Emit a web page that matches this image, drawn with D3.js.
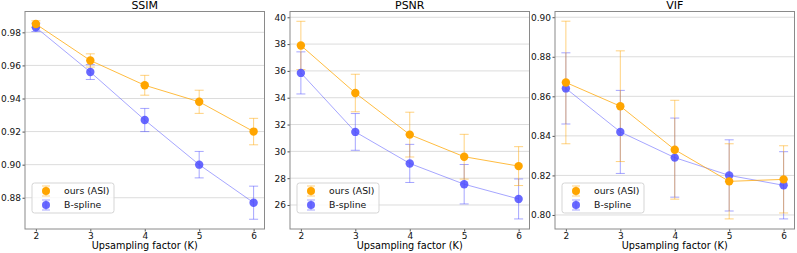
<!DOCTYPE html>
<html>
<head>
<meta charset="utf-8">
<script src="https://cdn.jsdelivr.net/npm/d3@7"></script>
<style>
  body { margin: 0; background: #fff; }
  svg { font-family: "DejaVu Sans", sans-serif; }
</style>
</head>
<body>
<svg id="chart" width="797" height="253"></svg>
<script>
// upsampling factors
var factors = [2, 3, 4, 5, 6];

// SSIM
var ssimOurs = [0.985, 0.963, 0.948, 0.938, 0.920];
var ssimOursErr = [0.002, 0.004, 0.006, 0.007, 0.008];
var ssimBsp = [0.983, 0.956, 0.927, 0.900, 0.877];
var ssimBspErr = [0.0025, 0.0045, 0.007, 0.008, 0.010];
var ssimTicks = [0.88, 0.90, 0.92, 0.94, 0.96, 0.98];

// PSNR
var psnrOurs = [37.9, 34.35, 31.25, 29.6, 28.9];
var psnrOursErr = [1.8, 1.4, 1.67, 1.67, 1.45];
var psnrBsp = [35.85, 31.45, 29.1, 27.55, 26.45];
var psnrBspErr = [1.57, 1.37, 1.42, 1.47, 1.49];
var psnrTicks = [26, 28, 30, 32, 34, 36, 38, 40];

// VIF
var vifOurs = [0.867, 0.855, 0.833, 0.817, 0.818];
var vifOursErr = [0.031, 0.028, 0.025, 0.019, 0.017];
var vifBsp = [0.864, 0.842, 0.829, 0.820, 0.815];
var vifBspErr = [0.018, 0.021, 0.020, 0.018, 0.017];
var vifTicks = [0.80, 0.82, 0.84, 0.86, 0.88, 0.90];

var seriesNames = ["ours (ASI)", "B-spline"];
var colOurs = "#ffa500", colBsp = "#4d4dff";

var panels = [
  {title: "SSIM", left: 25, dom: [0.8611, 0.9926], ticks: ssimTicks, fmt: d3.format(".2f"),
   a: ssimOurs, ae: ssimOursErr, b: ssimBsp, be: ssimBspErr},
  {title: "PSNR", left: 290, dom: [24.21, 40.43], ticks: psnrTicks, fmt: d3.format("d"),
   a: psnrOurs, ae: psnrOursErr, b: psnrBsp, be: psnrBspErr},
  {title: "VIF", left: 555, dom: [0.7929, 0.9029], ticks: vifTicks, fmt: d3.format(".2f"),
   a: vifOurs, ae: vifOursErr, b: vifBsp, be: vifBspErr}
];

var pw = 239.5, plotTop = 11.5, plotBottom = 229;
var svg = d3.select("#chart");

panels.forEach(function(p){
    var g = svg.append("g").attr("transform", "translate(" + p.left + ",0)");
    var x = d3.scaleLinear().domain([1.8, 6.2]).range([0, pw]);
    var y = d3.scaleLinear().domain(p.dom).range([plotBottom, plotTop]);

    // grid
    g.append("g").selectAll("line").data(p.ticks).enter().append("line")
        .attr("x1", 0).attr("x2", pw)
        .attr("y1", function(d){ return y(d); }).attr("y2", function(d){ return y(d); })
        .attr("stroke", "#dcdcdc").attr("stroke-width", 1);

    // axes
    var yAx = g.append("g").call(d3.axisLeft(y).tickValues(p.ticks).tickFormat(p.fmt).tickSize(2.5).tickPadding(1.5));
    var xAx = g.append("g").attr("transform", "translate(0," + plotBottom + ")")
        .call(d3.axisBottom(x).tickValues(factors).tickFormat(d3.format("d")).tickSize(2.5).tickPadding(1.5));
    [yAx, xAx].forEach(function(ax){
        ax.select(".domain").remove();
        ax.selectAll("line").attr("stroke", "#222").attr("stroke-width", 0.8);
        ax.selectAll("text").attr("font-size", 9).attr("fill", "#111")
            .attr("font-family", "DejaVu Sans, sans-serif");
    });

    // frame
    g.append("rect").attr("x", 0).attr("y", plotTop).attr("width", pw).attr("height", plotBottom - plotTop)
        .attr("fill", "none").attr("stroke", "#8a8a8a").attr("stroke-width", 1);

    // series
    var series = [
        {v: p.b, e: p.be, c: colBsp, lineOp: 0.5, dotOp: 0.85},
        {v: p.a, e: p.ae, c: colOurs, lineOp: 0.75, dotOp: 1}
    ];
    // error bars first
    series.forEach(function(s){
        var eb = g.append("g").attr("stroke", s.c).attr("stroke-opacity", 0.5).attr("stroke-width", 1);
        factors.forEach(function(f, i){
            var y1 = y(s.v[i] - s.e[i]), y2 = y(s.v[i] + s.e[i]);
            eb.append("line").attr("x1", x(f)).attr("x2", x(f)).attr("y1", y1).attr("y2", y2);
            eb.append("line").attr("x1", x(f) - 4.5).attr("x2", x(f) + 4.5).attr("y1", y1).attr("y2", y1);
            eb.append("line").attr("x1", x(f) - 4.5).attr("x2", x(f) + 4.5).attr("y1", y2).attr("y2", y2);
        });
    });
    series.forEach(function(s){
        var line = d3.line().x(function(d, i){ return x(factors[i]); }).y(function(d){ return y(d); });
        g.append("path").datum(s.v).attr("d", line).attr("fill", "none")
            .attr("stroke", s.c).attr("stroke-opacity", s.lineOp).attr("stroke-width", 1);
        g.append("g").selectAll("circle").data(s.v).enter().append("circle")
            .attr("cx", function(d, i){ return x(factors[i]); })
            .attr("cy", function(d){ return y(d); })
            .attr("r", 4.2).attr("fill", s.c).attr("fill-opacity", s.dotOp);
    });

    // title and x label
    g.append("text").attr("x", pw / 2).attr("y", 9.3).attr("text-anchor", "middle")
        .attr("font-size", 11).text(p.title);
    g.append("text").attr("x", pw / 2).attr("y", 248.5).attr("text-anchor", "middle")
        .attr("font-size", 9.7).text("Upsampling factor (K)");

    // legend
    var lg = g.append("g").attr("transform", "translate(7,183)");
    lg.append("rect").attr("width", 82).attr("height", 30).attr("rx", 2.5)
        .attr("fill", "#fff").attr("fill-opacity", 0.8).attr("stroke", "#d5d5d5");
    [colOurs, colBsp].forEach(function(c, i){
        var cy = 8 + i * 14;
        var le = lg.append("g").attr("stroke", c).attr("stroke-opacity", 0.5);
        le.append("line").attr("x1", 14).attr("x2", 14).attr("y1", cy - 5).attr("y2", cy + 5);
        le.append("line").attr("x1", 10).attr("x2", 18).attr("y1", cy - 5).attr("y2", cy - 5);
        le.append("line").attr("x1", 10).attr("x2", 18).attr("y1", cy + 5).attr("y2", cy + 5);
        lg.append("circle").attr("cx", 14).attr("cy", cy).attr("r", 4)
            .attr("fill", c).attr("fill-opacity", i ? 0.85 : 1);
        lg.append("text").attr("x", 32).attr("y", cy + 3.3).attr("font-size", 9.3)
            .attr("fill", "#111").text(seriesNames[i]);
    });
});
</script>
</body>
</html>
